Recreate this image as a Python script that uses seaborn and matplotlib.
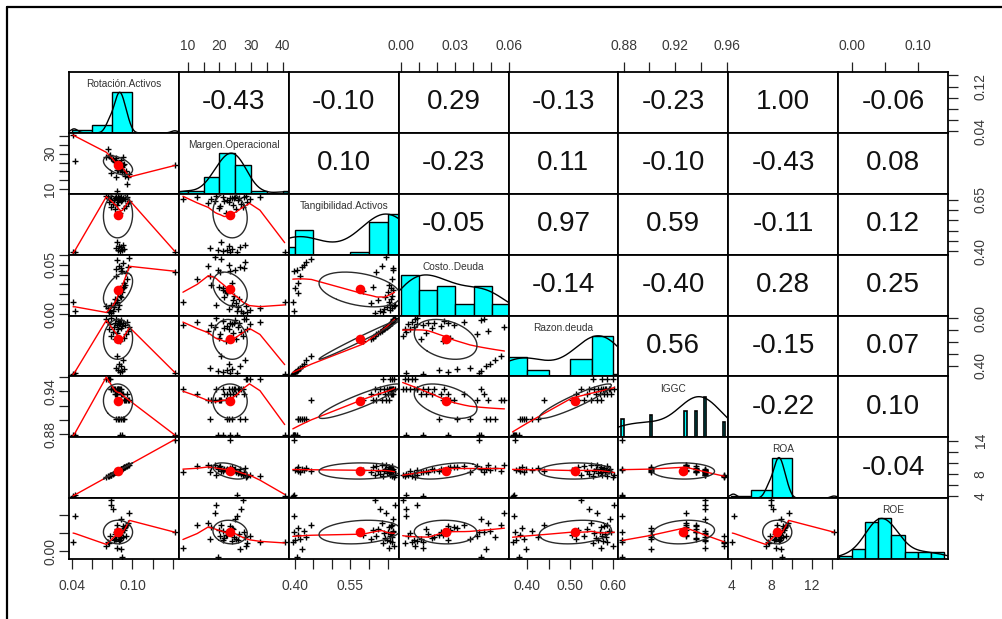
import numpy as np
import matplotlib
matplotlib.use("Agg")
import matplotlib.pyplot as plt
import seaborn as sns
from matplotlib.lines import Line2D

# ---------------- data ----------------
var_names = ["Rotación.Activos", "Margen.Operacional", "Tangibilidad.Activos",
             "Costo..Deuda", "Razon.deuda", "IGGC", "ROA", "ROE"]

rotacion_activos = [0.041, 0.043, 0.142, 0.088, 0.090, 0.086, 0.092, 0.084, 0.089, 0.087, 0.091, 0.085,
                    0.088, 0.083, 0.092, 0.079, 0.094, 0.085, 0.081, 0.096, 0.077, 0.086, 0.089, 0.097,
                    0.082, 0.090, 0.0845, 0.093, 0.078, 0.087, 0.091, 0.083, 0.088, 0.076, 0.095, 0.086,
                    0.089, 0.084, 0.074, 0.079]
margen_operacional = [40.6, 25.7, 23.4, 21.0, 19.5, 22.5, 24.0, 17.0, 26.5, 23.0, 28.0, 20.5,
                      22.0, 25.3, 19.8, 27.3, 20.3, 24.3, 26.8, 16.5, 28.8, 23.0, 21.5, 18.5,
                      25.8, 22.5, 8.5, 17.5, 29.5, 24.0, 23.5, 26.3, 24.6, 32.8, 13.0, 21.0,
                      24.9, 27.8, 28.3, 19.0]
tangibilidad_activos = [0.395, 0.397, 0.399, 0.402, 0.405, 0.408, 0.410, 0.415, 0.420, 0.425, 0.430, 0.445,
                        0.585, 0.605, 0.610, 0.615, 0.620, 0.625, 0.630, 0.635, 0.638, 0.641, 0.644, 0.647,
                        0.649, 0.651, 0.653, 0.655, 0.656, 0.658, 0.659, 0.660, 0.661, 0.662, 0.663, 0.664,
                        0.665, 0.666, 0.667, 0.669]
costo_deuda = [0.012, 0.003, 0.043, 0.026, 0.044, 0.021, 0.031, 0.038, 0.047, 0.049, 0.052, 0.055,
               0.023, 0.011, 0.027, 0.001, 0.042, 0.014, 0.003, 0.048, 0.002, 0.005, 0.017, 0.057,
               0.007, 0.022, 0.012, 0.029, 0.004, 0.009, 0.026, 0.015, 0.018, 0.006, 0.035, 0.024,
               0.044, 0.046, 0.008, 0.009]
razon_deuda = [0.366, 0.370, 0.372, 0.375, 0.380, 0.383, 0.388, 0.392, 0.398, 0.410, 0.425, 0.440,
               0.505, 0.512, 0.518, 0.525, 0.532, 0.538, 0.543, 0.548, 0.553, 0.556, 0.559, 0.562,
               0.565, 0.568, 0.570, 0.572, 0.574, 0.576, 0.578, 0.580, 0.582, 0.584, 0.586, 0.589,
               0.592, 0.595, 0.598, 0.602]
iggc = [0.879, 0.879, 0.879, 0.879, 0.879, 0.901, 0.901, 0.901, 0.901, 0.901, 0.901, 0.928,
        0.928, 0.936, 0.928, 0.943, 0.928, 0.936, 0.943, 0.928, 0.958, 0.943, 0.936, 0.928,
        0.943, 0.936, 0.943, 0.928, 0.958, 0.943, 0.936, 0.943, 0.943, 0.958, 0.936, 0.943,
        0.943, 0.936, 0.958, 0.943]
roa = [4.1, 4.3, 14.2, 8.8, 9.0, 8.6, 9.2, 8.4, 8.9, 8.7, 9.1, 8.5,
       8.8, 8.3, 9.2, 7.9, 9.4, 8.5, 8.1, 9.6, 7.7, 8.6, 8.9, 9.7,
       8.2, 9.0, 8.45, 9.3, 7.8, 8.7, 9.1, 8.3, 8.8, 7.6, 9.5, 8.6,
       8.9, 8.4, 7.4, 7.9]
roe = [0.026, 0.096, 0.052, 0.030, -0.015, 0.045, 0.065, 0.035, 0.005, 0.055, 0.038, 0.072,
       0.046, 0.034, 0.059, 0.140, 0.041, 0.062, 0.115, 0.077, 0.022, 0.050, 0.036, 0.105,
       0.031, 0.054, 0.008, 0.066, 0.043, 0.028, 0.069, 0.048, 0.039, 0.025, 0.073, 0.057,
       0.088, 0.052, 0.015, 0.128]

# correlations printed in the upper triangle (row by row)
corr_upper = [[-0.43, -0.10, 0.29, -0.13, -0.23, 1.00, -0.06],
              [0.10, -0.23, 0.11, -0.10, -0.43, 0.08],
              [-0.05, 0.97, 0.59, -0.11, 0.12],
              [-0.14, -0.40, 0.28, 0.25],
              [0.56, -0.15, 0.07],
              [-0.22, 0.10],
              [-0.04]]

tick_values = [[0.04, 0.06, 0.08, 0.10, 0.12, 0.14],
               [10, 15, 20, 25, 30, 35, 40],
               [0.40, 0.45, 0.50, 0.55, 0.60, 0.65],
               [0.00, 0.01, 0.02, 0.03, 0.04, 0.05, 0.06],
               [0.40, 0.45, 0.50, 0.55, 0.60],
               [0.88, 0.90, 0.92, 0.94, 0.96],
               [4, 6, 8, 10, 12, 14],
               [0.00, 0.05, 0.10]]
x_tick_labels = [["0.04", "", "", "0.10", "", ""],
                 ["10", "", "20", "", "30", "", "40"],
                 ["0.40", "", "", "0.55", "", ""],
                 ["0.00", "", "", "0.03", "", "", "0.06"],
                 ["0.40", "", "0.50", "", "0.60"],
                 ["0.88", "", "0.92", "", "0.96"],
                 ["4", "", "8", "", "12", ""],
                 ["0.00", "", "0.10"]]
y_tick_labels = [["0.04", "", "", "", "0.12", ""],
                 ["10", "", "", "", "30", "", ""],
                 ["0.40", "", "", "", "", "0.65"],
                 ["0.00", "", "", "", "", "0.05", ""],
                 ["0.40", "", "", "", "0.60"],
                 ["0.88", "", "", "0.94", ""],
                 ["4", "", "8", "", "", "14"],
                 ["0.00", "", ""]]
hist_start = [0.04, 5, 0.35, 0.0, 0.35, 0.87, 4, -0.02]
hist_width = [0.02, 5, 0.05, 0.01, 0.05, 0.01, 2, 0.02]

data = [rotacion_activos, margen_operacional, tangibilidad_activos, costo_deuda,
        razon_deuda, iggc, roa, roe]
data = [np.asarray(d, float) for d in data]
nv = len(data)

# ---------------- helpers (R equivalents) ----------------
def r_lowess(x, y, f=2/3, iters=3):
    o = np.argsort(x, kind="mergesort")
    x = np.asarray(x, float)[o]
    y = np.asarray(y, float)[o]
    n = len(x)
    rng = x[-1] - x[0]
    delta = 0.01 * rng
    ns = max(2, min(n, int(f * n + 1e-7)))
    ys = np.zeros(n)
    rw = np.ones(n)

    def lowest(xs, nleft, nright, userw):
        h = max(xs - x[nleft], x[nright] - xs)
        h9, h1 = 0.999 * h, 0.001 * h
        w = np.zeros(n)
        a = 0.0
        j = nleft
        while j < n:
            r = abs(x[j] - xs)
            if r <= h9:
                w[j] = 1.0 if r <= h1 else (1 - (r / h) ** 3) ** 3
                if userw:
                    w[j] *= rw[j]
                a += w[j]
            elif x[j] > xs:
                break
            j += 1
        nrt = j - 1
        if a <= 0:
            return None
        sl = slice(nleft, nrt + 1)
        w[sl] /= a
        if h > 0:
            a2 = np.sum(w[sl] * x[sl])
            b = xs - a2
            c = np.sum(w[sl] * (x[sl] - a2) ** 2)
            if np.sqrt(c) > 0.001 * rng:
                b /= c
                w[sl] *= (b * (x[sl] - a2) + 1)
        return np.sum(w[sl] * y[sl])

    it = 1
    while it <= iters + 1:
        nleft, nright, last, i = 0, ns - 1, -1, 0
        while True:
            if nright < n - 1:
                d1 = x[i] - x[nleft]
                d2 = x[nright + 1] - x[i]
                if d1 > d2:
                    nleft += 1
                    nright += 1
                    continue
            val = lowest(x[i], nleft, nright, it > 1)
            ys[i] = y[i] if val is None else val
            if last < i - 1:
                den = x[i] - x[last]
                for j in range(last + 1, i):
                    al = (x[j] - x[last]) / den
                    ys[j] = al * ys[i] + (1 - al) * ys[last]
            last = i
            cut = x[last] + delta
            i = last + 1
            while i < n:
                if x[i] > cut:
                    break
                if x[i] == x[last]:
                    ys[i] = ys[last]
                    last = i
                i += 1
            i = max(last + 1, i - 1)
            if last >= n - 1:
                break
        res = y - ys
        if it > iters:
            break
        sc = np.sum(np.abs(res)) / n
        r = np.abs(res)
        rs = np.sort(r)
        m1 = n // 2
        cmad = 3 * (rs[m1 - 1] + rs[m1]) if n % 2 == 0 else 6 * rs[m1]
        if cmad < 1e-7 * sc:
            break
        c9, c1 = 0.999 * cmad, 0.001 * cmad
        rw = np.where(r <= c1, 1.0, np.where(r <= c9, (1 - (r / cmad) ** 2) ** 2, 0.0))
        it += 1
    return x, ys


def r_density(x):
    n = len(x)
    q25, q75 = np.percentile(x, [25, 75])
    bw = 1.06 * min(x.std(ddof=1), (q75 - q25) / 1.34) * n ** -0.2 * 1.2
    grid = np.linspace(x.min() - 3 * bw, x.max() + 3 * bw, 512)
    d = np.exp(-0.5 * ((grid[:, None] - x[None, :]) / bw) ** 2).sum(1)
    return grid, d / d.max()


def ellipse_pts(xm, ym, xs, ys, r, seg=51):
    ang = np.arange(seg + 1) * 2 * np.pi / seg
    circ = np.column_stack([np.cos(ang), np.sin(ang)])
    th = np.sign(r) / np.sqrt(2) if abs(r) > 0 else 1 / np.sqrt(2)
    shape = np.diag([np.sqrt(1 + r), np.sqrt(max(0.0, 1 - r))]) @ np.array([[th, th], [-th, th]])
    e = circ @ shape
    return e[:, 0] * xs + xm, e[:, 1] * ys + ym


# ---------------- figure ----------------
sns.set_style("white")
plt.rcParams["font.family"] = ["Liberation Sans", "DejaVu Sans"]

W, H = 1003, 619
fig = plt.figure(figsize=(W / 100, H / 100), dpi=100)
X0, X1, Y0, Y1 = 69, 948, 72, 559
cw = (X1 - X0) / nv
rh = (Y1 - Y0) / nv

lims = []
for d in data:
    r = d.max() - d.min()
    lims.append((d.min() - 0.04 * r, d.max() + 0.04 * r))

tick_color = "#3a3a3a"
for i in range(nv):
    for j in range(nv):
        ax = fig.add_axes([(X0 + j * cw) / W, 1 - (Y0 + (i + 1) * rh) / H, cw / W, rh / H])
        for s in ax.spines.values():
            s.set_visible(True)
            s.set_color("black")
            s.set_linewidth(1.3)
        ax.set_facecolor("white")
        xv, yv = data[j], data[i]
        if i == j:
            uniq, cnt = np.unique(xv, return_counts=True)
            if len(uniq) < 11:
                inter = np.min(np.diff(uniq)) * (len(uniq) - 1) / 41
                ax.bar(uniq, cnt / cnt.max(), width=2 * inter, color="#00FFFF",
                       edgecolor="black", linewidth=1.2)
                ymax = 1.0
                scale = 1.0
            else:
                edges = np.arange(hist_start[j], xv.max() + hist_width[j], hist_width[j])
                c, _ = np.histogram(xv, bins=edges)
                scale = c.max()
                sns.histplot(x=xv, bins=edges, ax=ax, color="#00FFFF", edgecolor="black",
                             linewidth=1.0, alpha=1.0, stat="count")
            g, dd = r_density(xv)
            ax.plot(g, dd * scale, color="black", lw=1.0)
            ax.set_ylim(0, 1.5 * scale)
            ax.set_xlim(*lims[j])
            ax.text(0.5, 0.80, var_names[j], transform=ax.transAxes, ha="center", va="center",
                    fontsize=7.3, color="#333333")
        elif i > j:
            sns.scatterplot(x=xv, y=yv, ax=ax, marker="+", color="black", s=16,
                            linewidth=1.0, legend=False, zorder=3)
            lx, ly = r_lowess(xv, yv)
            ax.plot(lx, ly, color="red", lw=1.0, zorder=4)
            rr = np.corrcoef(xv, yv)[0, 1]
            ex, ey = ellipse_pts(xv.mean(), yv.mean(), xv.std(ddof=1), yv.std(ddof=1), rr)
            ax.plot(ex, ey, color="#2b2b2b", lw=1.0, zorder=4)
            ax.scatter([xv.mean()], [yv.mean()], s=48, color="red", zorder=5, linewidths=0)
            ax.set_xlim(*lims[j])
            ax.set_ylim(*lims[i])
        else:
            val = corr_upper[i][j - i - 1]
            ax.text(0.5, 0.5, f"{val:.2f}", transform=ax.transAxes, ha="center", va="center",
                    fontsize=20, color="#111111")
            ax.set_xlim(*lims[j])
            ax.set_ylim(*lims[i])
        ax.set_xlabel("")
        ax.set_ylabel("")
        ax.set_xticks([])
        ax.set_yticks([])
        # R-style alternating axes
        tp = dict(direction="out", length=7.5, width=0.9, color="#222222",
                  labelsize=10, labelcolor=tick_color)
        if i == 0 and j % 2 == 1:
            ax.set_xticks(tick_values[j])
            ax.set_xticklabels(x_tick_labels[j])
            ax.tick_params(axis="x", top=True, bottom=False, labeltop=True,
                           labelbottom=False, pad=6, **tp)
        if i == nv - 1 and j % 2 == 0:
            ax.set_xticks(tick_values[j])
            ax.set_xticklabels(x_tick_labels[j])
            ax.tick_params(axis="x", top=False, bottom=True, labeltop=False,
                           labelbottom=True, pad=7, **tp)
        if j == 0 and i % 2 == 1:
            ax.set_yticks(tick_values[i])
            ax.set_yticklabels(y_tick_labels[i], rotation=90, va="center")
            ax.tick_params(axis="y", left=True, right=False, labelleft=True,
                           labelright=False, pad=1, **tp)
        if j == nv - 1 and i % 2 == 0:
            ax.set_yticks(tick_values[i])
            ax.set_yticklabels(y_tick_labels[i], rotation=90, va="center")
            ax.tick_params(axis="y", left=False, right=True, labelleft=False,
                           labelright=True, pad=11, **tp)

# outer frame of the screenshot
fig.add_artist(Line2D([7 / W, 7 / W], [0, 1 - 7 / H], color="black", lw=1.6))
fig.add_artist(Line2D([7 / W, 1], [1 - 7 / H, 1 - 7 / H], color="black", lw=1.6))

fig.savefig("out.png", dpi=100)
